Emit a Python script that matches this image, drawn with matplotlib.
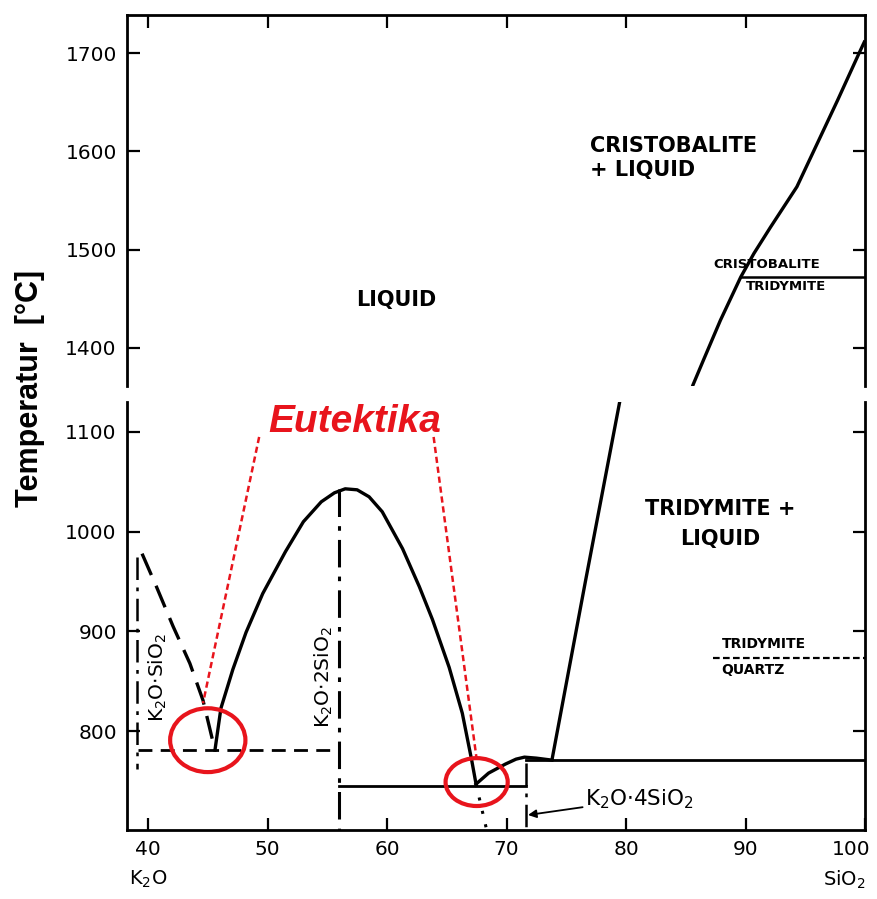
import matplotlib
matplotlib.use("Agg")
import matplotlib.pyplot as plt
from matplotlib.patches import Ellipse
from matplotlib.transforms import ScaledTranslation

# ---------------- data (wt% SiO2, temperature in degC) ----------------
liq_k2o_sio2_x = [39.5, 40.7, 42.1, 43.5, 44.6, 45.6]
liq_k2o_sio2_t = [978, 945, 905, 868, 831, 781]

liq_k2o_2sio2_x = [45.6, 46.1, 47.1, 48.2, 49.6, 51.5, 53.0, 54.5, 55.6, 56.5, 57.5,
                   58.5, 59.6, 61.3, 62.7, 63.8, 65.2, 66.3, 67.1, 67.45]
liq_k2o_2sio2_t = [781, 823, 862, 899, 938, 980, 1010, 1030, 1039, 1043, 1042,
                   1035, 1020, 983, 945, 912, 864, 818, 770, 747]

liq_k2o_4sio2_x = [67.45, 68.5, 69.9, 70.8, 71.5, 72.5, 73.8]
liq_k2o_4sio2_t = [747, 758, 767, 772, 774, 773, 771]

liq_silica_x = [73.8, 76.6, 79.5, 85.6, 86.5, 87.9, 89.6, 90.7, 92.1, 94.3, 96.0, 97.7, 99.5, 100.0]
liq_silica_t = [771, 950, 1132, 1362, 1388, 1428, 1472, 1496, 1523, 1564, 1608, 1652, 1700, 1713]

eut1_x = [39.2, 56.0]
eut1_t = [781, 781]
eut2_x = [56.0, 71.6]
eut2_t = [745, 745]
peritectic_x = [71.6, 100.0]
peritectic_t = [771, 771]
cris_trid_x = [89.6, 100.0]
cris_trid_t = [1472, 1472]
trid_quartz_x = [87.3, 100.0]
trid_quartz_t = [873, 873]
metastable_x = [67.45, 68.3]
metastable_t = [747, 703]

comp_k2o_sio2_x = [39.1, 39.1]
comp_k2o_sio2_t = [975, 762]
comp_k2o_2sio2_x = [56.0, 56.0]
comp_k2o_2sio2_t = [1043, 701]
comp_k2o_4sio2_x = [71.6, 71.6]
comp_k2o_4sio2_t = [768, 701]

eutectic_circles = [(45.0, 791, 6.3, 64), (67.5, 749, 5.2, 48)]
red_line1_x = [49.3, 44.6]
red_line1_t = [1095, 828]
red_line2_x = [63.9, 67.5]
red_line2_t = [1095, 772]

xticks = [40, 50, 60, 70, 80, 90, 100]
xticklabels = ["40", "50", "60", "70", "80", "90", "100"]
yticks_upper = [1400, 1500, 1600, 1700]
yticklabels_upper = ["1400", "1500", "1600", "1700"]
yticks_lower = [800, 900, 1000, 1100]
yticklabels_lower = ["800", "900", "1000", "1100"]

# ---------------- figure ----------------
fig = plt.figure(figsize=(8.78, 8.99), dpi=100)
L, W = 0.1441, 0.8411
ax_u = fig.add_axes([L, 0.5706, W, 0.4127])
ax_l = fig.add_axes([L, 0.0768, W, 0.4760])

XLIM = (38.2, 100.0)
ax_u.set_xlim(*XLIM); ax_u.set_ylim(1361, 1739)
ax_l.set_xlim(*XLIM); ax_l.set_ylim(701, 1130)

K = "black"
LW = 2.4
dashdot = (0, (9, 3, 1.5, 3))

for ax in (ax_u, ax_l):
    for s in ax.spines.values():
        s.set_linewidth(2.0)
    ax.tick_params(direction="in", length=9, width=1.6, labelsize=14.5,
                   left=True, right=True, top=True, bottom=True, pad=7)
    ax.plot(liq_silica_x, liq_silica_t, color=K, lw=LW, solid_capstyle="butt",
            solid_joinstyle="round")

ax_u.spines["bottom"].set_visible(False)
ax_l.spines["top"].set_visible(False)
ax_u.tick_params(bottom=False, labelbottom=False)
ax_l.tick_params(top=False)

ax_u.set_xticks(xticks[:-1])
ax_u.set_yticks(yticks_upper)
ax_u.set_yticklabels(yticklabels_upper)
ax_l.set_xticks(xticks)
ax_l.set_xticklabels(xticklabels)
ax_l.set_yticks(yticks_lower)
ax_l.set_yticklabels(yticklabels_lower)
last = ax_l.get_xticklabels()[-1]
last.set_transform(last.get_transform() + ScaledTranslation(-0.14, 0, fig.dpi_scale_trans))

# upper panel
ax_u.plot(cris_trid_x, cris_trid_t, color=K, lw=1.8)
ax_u.text(60.8, 1449, "LIQUID", ha="center", va="center", fontsize=15, fontweight="bold")
ax_u.text(77.0, 1593, "CRISTOBALITE\n+ LIQUID", ha="left", va="center", fontsize=15,
          fontweight="bold", linespacing=1.25)
ax_u.text(87.3, 1485, "CRISTOBALITE", ha="left", va="center", fontsize=9.5, fontweight="bold")
ax_u.text(90.0, 1462, "TRIDYMITE", ha="left", va="center", fontsize=9.5, fontweight="bold")

# lower panel
ax_l.plot(liq_k2o_sio2_x, liq_k2o_sio2_t, color=K, lw=LW, ls=(0, (7, 3.5)))
ax_l.plot(liq_k2o_2sio2_x, liq_k2o_2sio2_t, color=K, lw=LW, solid_joinstyle="round")
ax_l.plot(liq_k2o_4sio2_x, liq_k2o_4sio2_t, color=K, lw=LW, solid_joinstyle="round")
ax_l.plot(eut1_x, eut1_t, color=K, lw=2.0, ls=(0, (5, 3)))
ax_l.plot(eut2_x, eut2_t, color=K, lw=2.0)
ax_l.plot(peritectic_x, peritectic_t, color=K, lw=2.0)
ax_l.plot(trid_quartz_x, trid_quartz_t, color=K, lw=1.6, ls=(0, (3, 1.5)))
ax_l.plot(metastable_x, metastable_t, color=K, lw=2.2, ls=(0, (1, 3.5)))
ax_l.plot(comp_k2o_sio2_x, comp_k2o_sio2_t, color=K, lw=1.8, ls=dashdot)
ax_l.plot(comp_k2o_2sio2_x, comp_k2o_2sio2_t, color=K, lw=2.2, ls=dashdot)
ax_l.plot(comp_k2o_4sio2_x, comp_k2o_4sio2_t, color=K, lw=1.8, ls=dashdot)

ax_l.text(87.9, 1008, "TRIDYMITE +\nLIQUID", ha="center", va="center", fontsize=15,
          fontweight="bold", linespacing=1.6)
ax_l.text(88.0, 887, "TRIDYMITE", ha="left", va="center", fontsize=10, fontweight="bold")
ax_l.text(88.0, 861, "QUARTZ", ha="left", va="center", fontsize=10, fontweight="bold")
ax_l.text(40.8, 854, r"K$_2$O$\cdot$SiO$_2$", rotation=90, ha="center", va="center", fontsize=14.5)
ax_l.text(54.7, 854, r"K$_2$O$\cdot$2SiO$_2$", rotation=90, ha="center", va="center", fontsize=14.5)
ax_l.annotate(r"K$_2$O$\cdot$4SiO$_2$", xy=(71.8, 716), xytext=(76.6, 732),
              ha="left", va="center", fontsize=15.5,
              arrowprops=dict(arrowstyle="-|>", color=K, lw=1.3, shrinkA=0, shrinkB=0,
                              mutation_scale=12))

# red annotations
RED = "#e8141c"
for (cx, cy, w, h) in eutectic_circles:
    ax_l.add_patch(Ellipse((cx, cy), w, h, fill=False, ec=RED, lw=3.0, zorder=5))
ax_l.plot(red_line1_x, red_line1_t, color=RED, lw=1.8, ls=(0, (2.5, 1.5)), zorder=4)
ax_l.plot(red_line2_x, red_line2_t, color=RED, lw=1.8, ls=(0, (2.5, 1.5)), zorder=4)
ax_l.text(57.3, 1110, "Eutektika", color=RED, fontsize=28, fontweight="bold",
          fontstyle="italic", family="Liberation Sans", ha="center", va="center",
          clip_on=False)

# x-axis component labels
ax_l.text(40.0, 651, r"K$_2$O", ha="center", va="center", fontsize=14, clip_on=False)
ax_l.text(98.3, 651, r"SiO$_2$", ha="center", va="center", fontsize=14, clip_on=False)

fig.text(0.034, 0.568, "Temperatur  [°C]", rotation=90, ha="center", va="center",
         fontsize=22, fontweight="bold", family="Liberation Sans")

fig.savefig("out.png", dpi=100)
